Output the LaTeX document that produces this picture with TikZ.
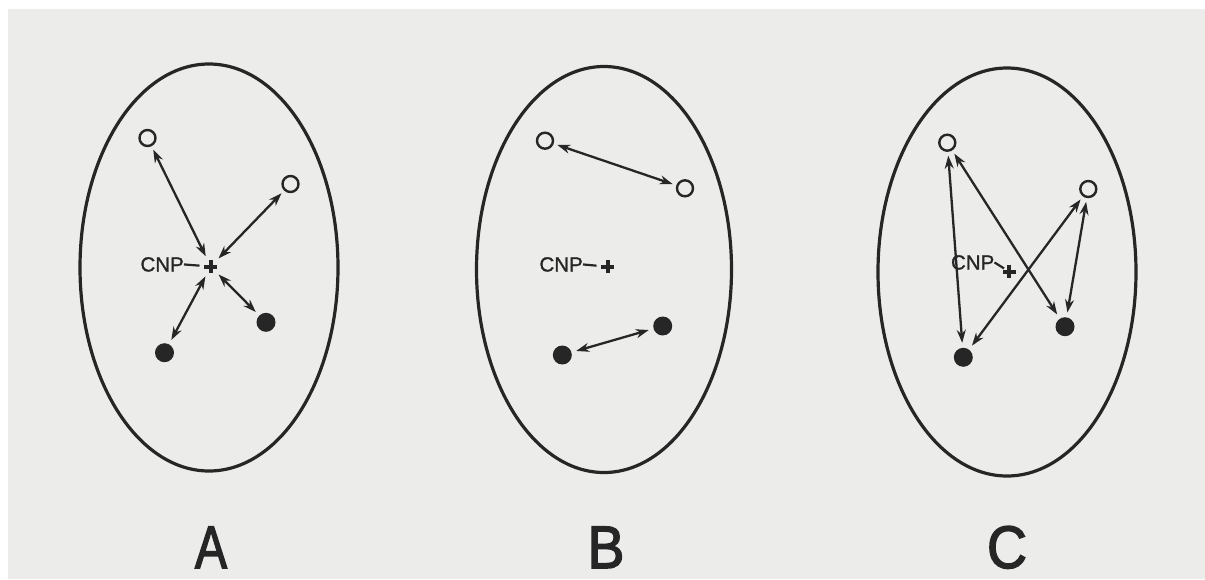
\documentclass[tikz,border=0pt]{standalone}
\usepackage{fontspec}
\usepackage{graphicx}
\setmainfont{Liberation Sans}
\newfontfamily\heavyfont[FakeBold=2.5]{Liberation Sans}
\newfontfamily\smallfont[FakeBold=1.2]{Liberation Sans}
\usetikzlibrary{arrows.meta}
\definecolor{bg}{RGB}{236,236,234}
\definecolor{ink}{RGB}{38,38,38}
\begin{document}
\begin{tikzpicture}[x=1pt,y=-1pt,
  oval/.style={draw=ink,line width=3.2pt},
  opendot/.style={circle,draw=ink,line width=2.4pt,minimum size=16pt,inner sep=0pt,outer sep=5pt},
  fulldot/.style={circle,fill=ink,minimum size=19pt,inner sep=0pt,outer sep=5pt},
  cnp/.style={circle,minimum size=22pt,inner sep=0pt},
  plusmark/.style={draw=ink,line width=4pt},
  cnplabel/.style={font=\smallfont\fontsize{20.5}{24}\selectfont,text=ink,inner sep=0pt,anchor=base east},
  biglabel/.style={font=\heavyfont\fontsize{60}{70}\selectfont,text=ink,inner sep=0pt,anchor=base},
  link/.style={draw=ink,line width=2.3pt,{Stealth[length=13pt,width=9pt]}-{Stealth[length=13pt,width=9pt]}},
  dashline/.style={draw=ink,line width=2.2pt}
]
\useasboundingbox (0,0) rectangle (1205,579);
\fill[white] (0,0) rectangle (1205,579);
\fill[bg] (8,9) rectangle (1205,579);

% ---------- A ----------
\draw[oval] (209,267.5) ellipse [x radius=129pt, y radius=203.5pt];
\node[opendot] (aO1) at (147.5,138) {};
\node[opendot] (aO2) at (290.5,184) {};
\node[fulldot] (aF1) at (164.5,352.7) {};
\node[fulldot] (aF2) at (266,322.3) {};
\node[cnp] (aP) at (210.7,266.5) {};
\draw[plusmark] (aP.center) ++(-6.5,0) -- ++(13,0) (aP.center) ++(0,-6.5) -- ++(0,13);
\node[cnplabel] (aC) at (184,271.5) {CNP};
\draw[dashline] (aC.east) -- (aP);
\draw[link] (aO1) -- (aP);
\draw[link] (aO2) -- (aP);
\draw[link] (aF1) -- (aP);
\draw[link] (aF2) -- (aP);
\node[biglabel] (lA) at (211,568) {\scalebox{0.8}[1]{A}};

% ---------- B ----------
\draw[oval] (604,269.5) ellipse [x radius=127.5pt, y radius=203pt];
\node[opendot] (bO1) at (545,140.7) {};
\node[opendot] (bO2) at (685,188.3) {};
\node[fulldot] (bF1) at (562.3,355) {};
\node[fulldot] (bF2) at (662.7,326) {};
\node[cnp] (bP) at (607.7,266.7) {};
\draw[plusmark] (bP.center) ++(-6.5,0) -- ++(13,0) (bP.center) ++(0,-6.5) -- ++(0,13);
\node[cnplabel] (bC) at (583,271.5) {CNP};
\draw[dashline] (bC.east) -- (bP);
\draw[link] (bO1) -- (bO2);
\draw[link] (bF1) -- (bF2);
\node[biglabel] (lB) at (606,568) {\scalebox{0.92}[1]{B}};

% ---------- C ----------
\draw[oval] (1007,272) ellipse [x radius=129pt, y radius=204pt];
\node[opendot] (cO1) at (947.3,142.7) {};
\node[opendot] (cO2) at (1088.3,189) {};
\node[fulldot] (cF1) at (963.3,357.3) {};
\node[fulldot] (cF2) at (1065,326.7) {};
\node[cnp] (cP) at (1009.3,271.7) {};
\draw[plusmark] (cP.center) ++(-6.5,0) -- ++(13,0) (cP.center) ++(0,-6.5) -- ++(0,13);
\node[cnplabel] (cC) at (994.5,269.5) {CNP};
\draw[dashline,shorten >=-5pt] (cC.east) -- (cP);
\draw[link] (cO1) -- (cF1);
\draw[link] (cO1) -- (cF2);
\draw[link] (cO2) -- (cF1);
\draw[link] (cO2) -- (cF2);
\node[biglabel] (lC) at (1007,568) {\scalebox{0.92}[1]{C}};
\end{tikzpicture}
\end{document}
